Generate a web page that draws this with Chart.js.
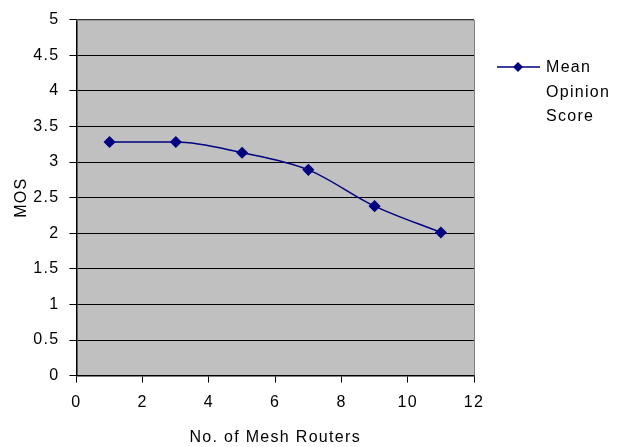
<!DOCTYPE html>
<html>
<head>
<meta charset="utf-8">
<script src="https://cdn.jsdelivr.net/npm/chart.js@4/dist/chart.umd.min.js"></script>
<style>
  html, body { margin: 0; padding: 0; background: #fff; }
  #wrap { width: 623px; height: 447px; position: relative; }
</style>
</head>
<body>
<div id="wrap"><canvas id="mosChart"></canvas></div>
<script>
const routers = [1, 3, 5, 7, 9, 11];
const mosValues = [3.28, 3.28, 3.13, 2.89, 2.38, 2.01];
const seriesName = ['Mean', 'Opinion', 'Score'];
const xTitle = 'No. of Mesh Routers';
const yTitle = 'MOS';

const FONT = 'Liberation Sans, Arial, sans-serif';
const NAVY = '#000080';
const SPACING = '1.3px';

// wider letter spacing, like the original's text
const spacing = {
  id: 'spacing',
  beforeInit(chart) { chart.ctx.letterSpacing = SPACING; },
  beforeDraw(chart) { chart.ctx.letterSpacing = SPACING; }
};

// gray plot background + gray top/right frame
const plotBg = {
  id: 'plotBg',
  beforeDraw(chart) {
    const { ctx, chartArea: a } = chart;
    ctx.save();
    ctx.fillStyle = '#c0c0c0';
    ctx.fillRect(a.left, a.top, a.right - a.left, a.bottom - a.top);
    ctx.restore();
  },
  afterDatasetsDraw(chart) {
    const { ctx, chartArea: a } = chart;
    ctx.save();
    ctx.strokeStyle = '#808080';
    ctx.lineWidth = 1;
    ctx.beginPath();
    ctx.moveTo(a.left, a.top + 0.5);
    ctx.lineTo(a.right + 0.5, a.top + 0.5);
    ctx.lineTo(a.right + 0.5, a.bottom);
    ctx.stroke();
    ctx.restore();
  }
};

// legend to the right of the plot, label over three lines
const sideLegend = {
  id: 'sideLegend',
  afterDraw(chart) {
    const { ctx, chartArea: a } = chart;
    const x0 = a.right + 23, y0 = 67;
    ctx.save();
    ctx.strokeStyle = NAVY;
    ctx.lineWidth = 1.5;
    ctx.beginPath();
    ctx.moveTo(x0, y0);
    ctx.lineTo(x0 + 43, y0);
    ctx.stroke();
    ctx.fillStyle = NAVY;
    ctx.beginPath();
    const cx = x0 + 21;
    ctx.moveTo(cx, y0 - 5);
    ctx.lineTo(cx + 5, y0);
    ctx.lineTo(cx, y0 + 5);
    ctx.lineTo(cx - 5, y0);
    ctx.closePath();
    ctx.fill();
    ctx.fillStyle = '#000';
    ctx.font = '16px ' + FONT;
    ctx.textBaseline = 'middle';
    seriesName.forEach((t, i) => ctx.fillText(t, x0 + 49, y0 + 1 + i * 24.5));
    ctx.restore();
  }
};

new Chart(document.getElementById('mosChart'), {
  type: 'line',
  data: {
    datasets: [{
      label: seriesName.join(' '),
      data: routers.map((x, i) => ({ x, y: mosValues[i] })),
      borderColor: NAVY,
      backgroundColor: NAVY,
      borderWidth: 1.5,
      pointStyle: 'rectRot',
      pointRadius: 5,
      pointHoverRadius: 5,
      cubicInterpolationMode: 'monotone',
      fill: false
    }]
  },
  options: {
    responsive: true,
    maintainAspectRatio: false,
    animation: false,
    layout: { padding: { top: 8, right: 149, bottom: 0, left: 12 } },
    plugins: { legend: { display: false }, tooltip: { enabled: false } },
    scales: {
      x: {
        type: 'linear',
        min: 0, max: 12,
        ticks: { stepSize: 2, color: '#000', padding: 10, font: { family: FONT, size: 16 } },
        grid: { drawOnChartArea: false, drawTicks: true, tickLength: 7, color: '#000' },
        border: { color: '#000', width: 1.5 },
        title: { display: true, text: xTitle, color: '#000', font: { family: FONT, size: 16 }, padding: { top: 6, bottom: 0 } }
      },
      y: {
        min: 0, max: 5,
        ticks: { stepSize: 0.5, color: '#000', padding: 10, font: { family: FONT, size: 16 },
                 callback: v => String(v) },
        grid: { color: '#000', lineWidth: 1, drawTicks: true, tickLength: 7 },
        border: { color: '#000', width: 1.5 },
        title: { display: true, text: yTitle, color: '#000', font: { family: FONT, size: 16 }, padding: { top: 0, bottom: -4 } }
      }
    }
  },
  plugins: [spacing, plotBg, sideLegend]
});
</script>
</body>
</html>
